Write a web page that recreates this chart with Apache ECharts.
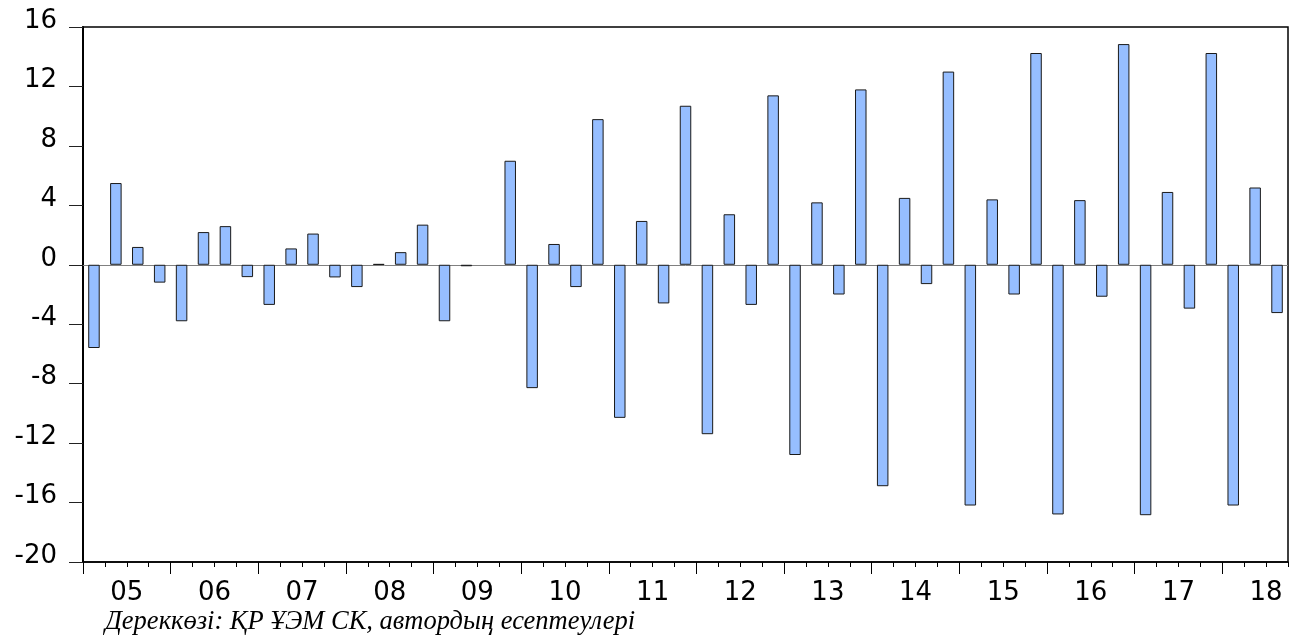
<!DOCTYPE html>
<html>
<head>
<meta charset="utf-8">
<script src="https://cdn.jsdelivr.net/npm/echarts@6/dist/echarts.min.js"></script>
<style>
html,body{margin:0;padding:0;background:#fff;}
#chart{width:1296px;height:639px;}
</style>
</head>
<body>
<div id="chart"></div>
<script>
// Year tick labels
var yearLabels = ['05','06','07','08','09','10','11','12','13','14','15','16','17','18'];
var quarters = ['Q1','Q2','Q3','Q4'];

// Quarterly values, 2005Q1 .. 2018Q3
var values2005 = [-5.6, 5.5, 1.2, -1.2];
var values2006 = [-3.8, 2.2, 2.6, -0.83];
var values2007 = [-2.7, 1.1, 2.1, -0.85];
var values2008 = [-1.5, 0.05, 0.85, 2.7];
var values2009 = [-3.8, -0.1, null, 7.0];
var values2010 = [-8.3, 1.4, -1.5, 9.8];
var values2011 = [-10.3, 2.95, -2.6, 10.7];
var values2012 = [-11.4, 3.4, -2.7, 11.4];
var values2013 = [-12.8, 4.2, -2.0, 11.8];
var values2014 = [-14.9, 4.5, -1.3, 13.0];
var values2015 = [-16.2, 4.4, -2.0, 14.25];
var values2016 = [-16.8, 4.35, -2.15, 14.85];
var values2017 = [-16.85, 4.9, -2.95, 14.25];
var values2018 = [-16.2, 5.2, -3.25];

var sourceNote = 'Дереккөзі: ҚР ҰЭМ СК, автордың есептеулері';

var values = [].concat(values2005, values2006, values2007, values2008, values2009,
  values2010, values2011, values2012, values2013, values2014, values2015,
  values2016, values2017, values2018);

var categories = [];
for (var i = 0; i < values.length; i++) {
  categories.push('20' + yearLabels[Math.floor(i / 4)] + quarters[i % 4]);
}
var n = categories.length;

// year boundaries (long ticks) and year centres (labels), in quarter units
var yearStarts = [];
var yearCentres = [];
for (var k = 0; k < yearLabels.length; k++) {
  yearStarts.push(k * 4);
  yearCentres.push(k * 4 + 2);
}

var chart = echarts.init(document.getElementById('chart'), null, {renderer: 'canvas'});
var labelFont = 'DejaVu Sans';

chart.setOption({
  animation: false,
  backgroundColor: '#ffffff',
  title: {
    text: sourceNote,
    left: 100,
    top: 604,
    textStyle: {
      fontFamily: 'Liberation Serif',
      fontStyle: 'italic',
      fontWeight: 'normal',
      fontSize: 26.5,
      color: '#000'
    }
  },
  grid: {
    left: 83,
    right: 8,
    top: 27,
    bottom: 77,
    show: true,
    borderColor: '#000',
    borderWidth: 1.5,
    backgroundColor: 'transparent'
  },
  xAxis: [
    {
      type: 'category',
      data: categories,
      position: 'bottom',
      boundaryGap: true,
      axisLine: {show: true, onZero: false, lineStyle: {color: '#000', width: 1.5}},
      axisTick: {show: true, interval: 0, length: 5, lineStyle: {color: '#000', width: 1}},
      axisLabel: {show: false},
      splitLine: {show: false}
    },
    {
      type: 'value',
      min: 0,
      max: n,
      position: 'bottom',
      axisLine: {show: false, onZero: false},
      axisTick: {
        show: true,
        customValues: yearStarts,
        length: 12,
        lineStyle: {color: '#000', width: 1}
      },
      splitLine: {show: false},
      axisLabel: {
        show: true,
        customValues: yearCentres,
        margin: 18,
        fontFamily: labelFont,
        fontSize: 26,
        color: '#000',
        formatter: function (v) {
          return yearLabels[Math.round((v - 2) / 4)] || '';
        }
      }
    }
  ],
  yAxis: {
    type: 'value',
    min: -20,
    max: 16,
    interval: 4,
    axisLine: {show: true, onZero: false, lineStyle: {color: '#000', width: 2}},
    axisTick: {show: true, length: 14, lineStyle: {color: '#222', width: 1}},
    splitLine: {show: false},
    axisLabel: {
      margin: 26,
      fontFamily: labelFont,
      fontSize: 26,
      color: '#000',
      verticalAlign: 'bottom',
      lineHeight: 12
    }
  },
  series: [{
    type: 'bar',
    xAxisIndex: 0,
    data: values,
    barWidth: 11.5,
    itemStyle: {color: '#96BEFF', borderColor: '#1a1a1a', borderWidth: 1},
    markLine: {
      silent: true,
      symbol: ['none', 'none'],
      label: {show: false},
      lineStyle: {color: '#808080', width: 1, type: 'solid'},
      data: [{yAxis: 0}],
      z: 1
    }
  }]
});
</script>
</body>
</html>
